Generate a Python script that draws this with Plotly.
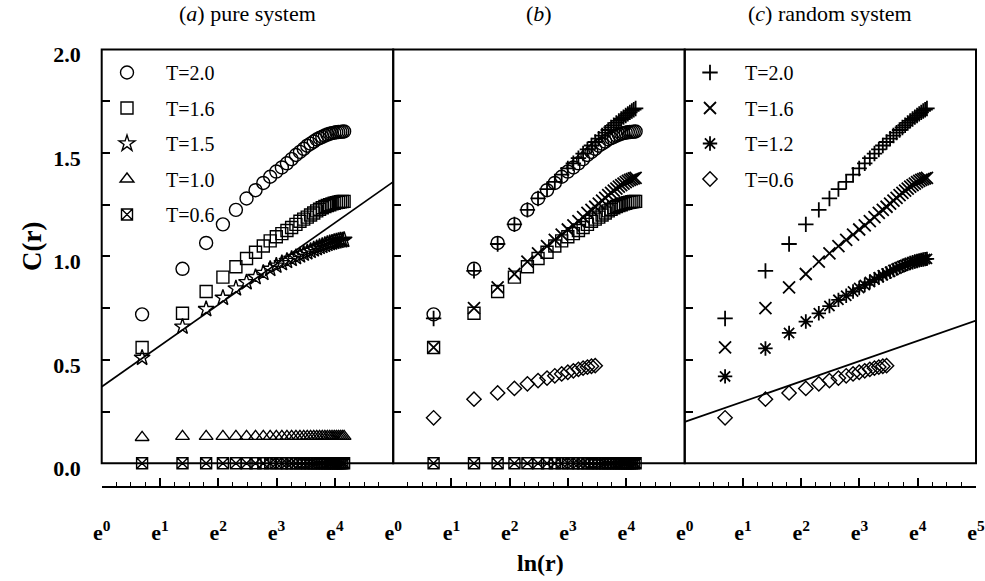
import numpy as np
import plotly.graph_objects as go

# ---------------- data ----------------
R = [2, 4, 6, 8, 10, 12, 14, 16, 18, 20, 22, 24, 26, 28, 30, 32,
     34, 36, 38, 40, 42, 44, 46, 48, 50, 52, 54, 56, 58, 60, 62, 64]
R_SHORT = [2, 4, 6, 8, 10, 12, 14, 16, 18, 20, 22, 24, 26, 28, 30, 32]

PURE_T20 = [0.72, 0.94, 1.065, 1.155, 1.225, 1.28, 1.32, 1.355, 1.385, 1.41, 1.43, 1.45,
            1.47, 1.49, 1.505, 1.52, 1.535, 1.545, 1.555, 1.565, 1.572, 1.578, 1.584, 1.589,
            1.593, 1.596, 1.598, 1.600, 1.601, 1.602, 1.603, 1.604]
PURE_T16 = [0.56, 0.725, 0.83, 0.90, 0.95, 0.99, 1.02, 1.05, 1.075, 1.095, 1.11, 1.125,
            1.14, 1.155, 1.17, 1.18, 1.19, 1.20, 1.21, 1.22, 1.228, 1.235, 1.241, 1.246,
            1.25, 1.254, 1.257, 1.26, 1.262, 1.264, 1.265, 1.266]
PURE_T15 = [0.51, 0.66, 0.745, 0.80, 0.845, 0.875, 0.90, 0.92, 0.94, 0.955, 0.967, 0.978,
            0.988, 0.997, 1.005, 1.013, 1.02, 1.027, 1.034, 1.04, 1.046, 1.051, 1.056, 1.06,
            1.064, 1.067, 1.07, 1.073, 1.075, 1.077, 1.078, 1.08]
PURE_T10 = [0.125, 0.13, 0.13, 0.13, 0.13, 0.13, 0.13, 0.13, 0.13, 0.13, 0.13, 0.13,
            0.13, 0.13, 0.13, 0.13, 0.13, 0.13, 0.13, 0.13, 0.13, 0.13, 0.13, 0.13,
            0.13, 0.13, 0.13, 0.13, 0.13, 0.13, 0.13, 0.13]
PURE_T06 = [0.0, 0.0, 0.0, 0.0, 0.0, 0.0, 0.0, 0.0, 0.0, 0.0, 0.0, 0.0,
            0.0, 0.0, 0.0, 0.0, 0.0, 0.0, 0.0, 0.0, 0.0, 0.0, 0.0, 0.0,
            0.0, 0.0, 0.0, 0.0, 0.0, 0.0, 0.0, 0.0]

RAND_T20 = [0.70, 0.93, 1.06, 1.155, 1.225, 1.28, 1.325, 1.36, 1.395, 1.425, 1.45, 1.475,
            1.497, 1.517, 1.536, 1.553, 1.569, 1.584, 1.598, 1.611, 1.623, 1.634, 1.645, 1.655,
            1.664, 1.673, 1.681, 1.689, 1.696, 1.703, 1.709, 1.715]
RAND_T16 = [0.56, 0.75, 0.85, 0.915, 0.975, 1.015, 1.05, 1.08, 1.105, 1.13, 1.15, 1.17,
            1.19, 1.21, 1.225, 1.24, 1.255, 1.27, 1.283, 1.296, 1.307, 1.318, 1.328, 1.337,
            1.345, 1.352, 1.359, 1.365, 1.37, 1.374, 1.377, 1.38]
RAND_T12 = [0.42, 0.555, 0.63, 0.685, 0.725, 0.76, 0.79, 0.81, 0.83, 0.847, 0.862, 0.876,
            0.888, 0.899, 0.909, 0.918, 0.926, 0.934, 0.941, 0.948, 0.954, 0.959, 0.964, 0.968,
            0.972, 0.975, 0.978, 0.981, 0.983, 0.985, 0.987, 0.988]
RAND_T06 = [0.22, 0.31, 0.34, 0.362, 0.384, 0.40, 0.412, 0.423, 0.432, 0.44, 0.447, 0.454,
            0.46, 0.465, 0.469, 0.472]

FIT_LNR = [0.0, 5.0]
FIT_PURE = [0.37, 1.36]
FIT_RAND = [0.20, 0.69]

X_TICKVALS = [0, 1, 2, 3, 4, 5]
X_TICKTEXT = ["e<sup>0</sup>", "e<sup>1</sup>", "e<sup>2</sup>", "e<sup>3</sup>",
              "e<sup>4</sup>", "e<sup>5</sup>"]
Y_TICKVALS = [0.0, 0.5, 1.0, 1.5, 2.0]
Y_TICKTEXT = ["0.0", "0.5", "1.0", "1.5", "2.0"]

PANEL_TITLES = ["(<i>a</i>) pure system", "(<i>b</i>)", "(<i>c</i>) random system"]
LEGEND_A = ["T=2.0", "T=1.6", "T=1.5", "T=1.0", "T=0.6"]
LEGEND_C = ["T=2.0", "T=1.6", "T=1.2", "T=0.6"]

# ---------------- layout geometry ----------------
W, H = 985, 581
FONT = "Liberation Serif"
px = lambda v: v / W
py = lambda v: (H - v) / H

XL = [101.7, 393.2, 684.7, 976.0]
Y_TOP, Y_BOT, X_AXIS_Y = 49.5, 463.3, 486.7

lnR = np.log(np.array(R, dtype=float))
lnRs = np.log(np.array(R_SHORT, dtype=float))

fig = go.Figure()
BLACK = "black"


def add(x, y, sym, size, name=None, panel=1, legend=None, lw=1.4, clip=True):
    xa = "x" if panel == 1 else f"x{panel}"
    ya = "y" if panel == 1 else f"y{panel}"
    fig.add_trace(go.Scatter(
        x=x, y=y, mode="markers", xaxis=xa, yaxis=ya,
        name=name, showlegend=legend is not None,
        legend=legend if legend else "legend",
        legendgroup=f"{name}-{panel}",
        cliponaxis=clip,
        marker=dict(symbol=sym, size=size, color=BLACK,
                    line=dict(color=BLACK, width=lw)),
    ))


# panel a
add(lnR, PURE_T20, "circle-open", 13, LEGEND_A[0], 1, "legend")
add(lnR, PURE_T16, "square-open", 12, LEGEND_A[1], 1, "legend")
add(lnR, PURE_T15, "star-open", 12, LEGEND_A[2], 1, "legend")
add(lnR, PURE_T10, "triangle-up-open", 12, LEGEND_A[3], 1, "legend")
add(lnR, PURE_T06, "square-x-open", 11, LEGEND_A[4], 1, "legend", clip=False)
fig.add_trace(go.Scatter(x=FIT_LNR, y=FIT_PURE, mode="lines", xaxis="x", yaxis="y",
                         showlegend=False, line=dict(color=BLACK, width=1.7)))

# panel b
add(lnR, PURE_T20, "circle-open", 13, "b1", 2)
add(lnR, RAND_T20, "cross-thin-open", 11, "b2", 2, lw=1.8)
add(lnR, PURE_T16, "square-open", 12, "b3", 2)
add(lnR, RAND_T16, "x-thin-open", 12, "b4", 2, lw=1.8)
add(lnRs, RAND_T06, "diamond-open", 11, "b5", 2)
add(lnR, PURE_T06, "square-x-open", 11, "b6", 2, clip=False)

# panel c
add(lnR, RAND_T20, "cross-thin-open", 11, LEGEND_C[0], 3, "legend2", lw=1.8)
add(lnR, RAND_T16, "x-thin-open", 12, LEGEND_C[1], 3, "legend2", lw=1.8)
add(lnR, RAND_T12, "asterisk-open", 12, LEGEND_C[2], 3, "legend2", lw=1.8)
add(lnRs, RAND_T06, "diamond-open", 11, LEGEND_C[3], 3, "legend2")
fig.add_trace(go.Scatter(x=FIT_LNR, y=FIT_RAND, mode="lines", xaxis="x3", yaxis="y3",
                         showlegend=False, line=dict(color=BLACK, width=1.7)))

tickfont = dict(family=FONT, size=22, color=BLACK, weight="bold")
layout = dict(
    template="none",
    width=W, height=H, autosize=False,
    margin=dict(l=0, r=0, t=0, b=0, pad=0),
    paper_bgcolor="white", plot_bgcolor="white",
    font=dict(family=FONT, color=BLACK),
)

for i in range(3):
    sfx = "" if i == 0 else str(i + 1)
    last = (i == 2)
    tv = X_TICKVALS if last else X_TICKVALS[:5]
    tt = X_TICKTEXT if last else X_TICKTEXT[:5]
    layout["xaxis" + sfx] = dict(
        domain=[px(XL[i]), px(XL[i + 1])], range=[0, 5.001],
        anchor="free", position=py(X_AXIS_Y), automargin=False,
        showgrid=False, zeroline=False, showline=True, linecolor=BLACK, linewidth=2,
        ticks="inside", ticklen=8, tickwidth=1.5, tickcolor=BLACK,
        tickmode="array", tickvals=tv, ticktext=tt,
        tickfont=tickfont, ticklabelstandoff=26,
        minor=dict(ticks="inside", ticklen=4, tickwidth=1.2, tickcolor=BLACK,
                   dtick=0.25, tick0=0, showgrid=False),
        fixedrange=True,
    )
    layout["yaxis" + sfx] = dict(
        domain=[py(Y_BOT), py(Y_TOP)], range=[0, 2],
        anchor="x" + sfx, automargin=False,
        showgrid=False, zeroline=False, showline=False,
        ticks="inside", ticklen=8, tickwidth=1.5, tickcolor=BLACK,
        tickmode="array", tickvals=Y_TICKVALS, ticktext=Y_TICKTEXT,
        showticklabels=(i == 0),
        tickfont=tickfont, ticklabelstandoff=20, ticklabelshift=5,
        minor=dict(ticks="inside", ticklen=8, tickwidth=1.5, tickcolor=BLACK,
                   dtick=0.25, tick0=0, showgrid=False),
        fixedrange=True,
    )

fig.update_layout(**layout)

# panel frames
for i in range(3):
    fig.add_shape(type="rect", xref="paper", yref="paper",
                  x0=px(XL[i]), x1=px(XL[i + 1]), y0=py(Y_BOT), y1=py(Y_TOP),
                  line=dict(color=BLACK, width=2), fillcolor="rgba(0,0,0,0)", layer="above")

# panel titles
for i, t in enumerate(PANEL_TITLES):
    fig.add_annotation(text=t, xref="paper", yref="paper",
                       x=px((XL[i] + XL[i + 1]) / 2), y=py(14), xanchor="center", yanchor="middle",
                       showarrow=False, font=dict(family=FONT, size=22, color=BLACK))

fig.add_annotation(text="C(r)", xref="paper", yref="paper", x=px(32), y=py(247),
                   textangle=-90, xanchor="center", yanchor="middle", showarrow=False,
                   font=dict(family=FONT, size=27, color=BLACK, weight="bold"))
fig.add_annotation(text="ln(r)", xref="paper", yref="paper", x=px(540), y=py(563),
                   xanchor="center", yanchor="middle", showarrow=False,
                   font=dict(family=FONT, size=24, color=BLACK, weight="bold"))

legfont = dict(family=FONT, size=20, color=BLACK)
fig.update_layout(
    legend=dict(x=px(88), y=py(53), xanchor="left", yanchor="top",
                bgcolor="rgba(0,0,0,0)", borderwidth=0, font=legfont,
                traceorder="grouped", tracegroupgap=6.5, itemwidth=68,
                itemclick=False, itemdoubleclick=False),
    legend2=dict(x=px(675), y=py(53), xanchor="left", yanchor="top",
                 bgcolor="rgba(0,0,0,0)", borderwidth=0, font=legfont,
                 traceorder="grouped", tracegroupgap=6.5, itemwidth=60,
                 itemclick=False, itemdoubleclick=False),
)

fig.write_html("out.html")
